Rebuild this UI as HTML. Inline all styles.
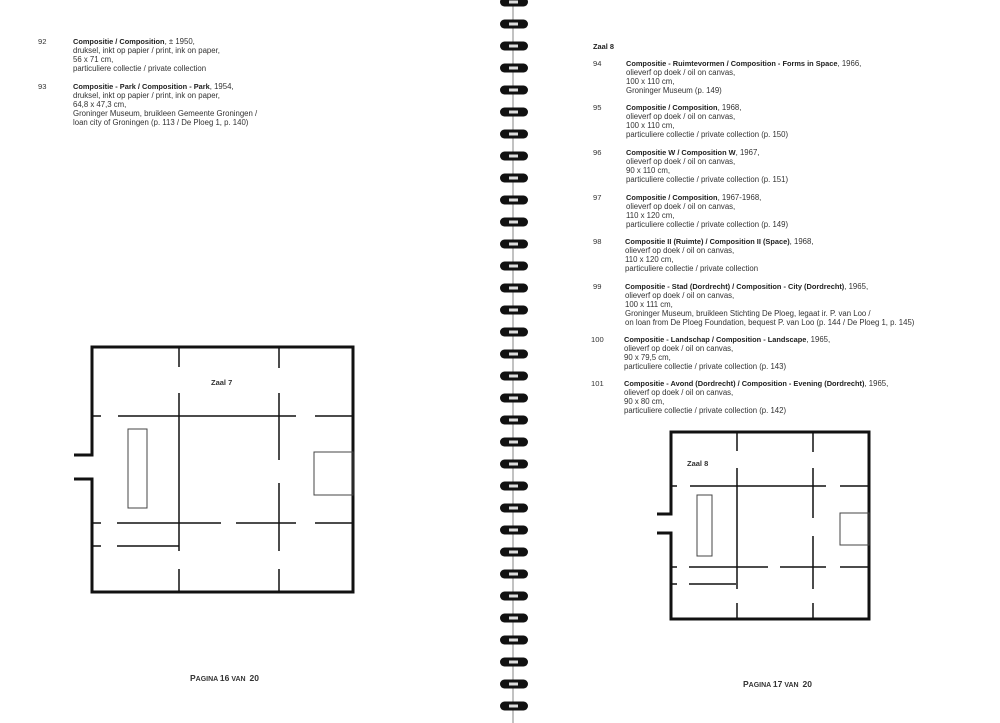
<!DOCTYPE html>
<html><head><meta charset="utf-8"><style>
body{margin:0;width:1000px;height:723px;background:#fff;position:relative;overflow:hidden;font-family:"Liberation Sans",Arial,sans-serif;color:#333}
.t{position:absolute;font-size:7.8px;line-height:9px;white-space:nowrap}
.t b{font-size:7.4px}
.n{position:absolute;font-size:7.6px;line-height:9px}
b{color:#222}
svg{position:absolute;left:0;top:0}
</style></head><body>
<svg width="1000" height="723">
<g stroke="#111" fill="none">
<path d="M74,455H92V347H353V592H92V479H74" stroke-width="3"/>
<g stroke-width="1.5">
<path d="M179,347V367M179,393V551M179,569V592"/>
<path d="M279,347V368M279,393V460M279,483V551M279,569V592"/>
<path d="M92,416H101M118,416H296M315,416H353"/>
<path d="M92,523H101M117,523H221M236,523H296M315,523H353"/>
<path d="M92,546H101M117,546H179"/>
</g>
<rect x="128" y="429" width="19" height="79" stroke-width="1" stroke="#444"/>
<rect x="314" y="452" width="39" height="43" stroke-width="1" stroke="#444"/>
<path d="M657,514H671V432H869V619H671V533H657" stroke-width="3"/>
<g stroke-width="1.5">
<path d="M737,432V451M737,468V589M737,603V619"/>
<path d="M813,432V452M813,468V518M813,536V589M813,603V619"/>
<path d="M671,486H677M690,486H826M840,486H869"/>
<path d="M671,567H677M689,567H768M780,567H826M840,567H869"/>
<path d="M671,584H677M689,584H736"/>
</g>
<rect x="697" y="495" width="15" height="61" stroke-width="1" stroke="#444"/>
<rect x="840" y="513" width="29" height="32" stroke-width="1" stroke="#444"/>
</g>
<text x="211" y="385" font-family="Liberation Sans" font-size="7.5" font-weight="bold" fill="#333">Zaal 7</text>
<text x="687" y="466" font-family="Liberation Sans" font-size="7.5" font-weight="bold" fill="#333">Zaal 8</text>
<line x1="513" y1="0" x2="513" y2="723" stroke="#999" stroke-width="1.2"/>
<g id="rings"></g>
</svg>
<script>
var g=document.getElementById('rings'),s='';
for(var k=0;k<33;k++){var y=2+22*k;
s+='<rect x="500" y="'+(y-4.5)+'" width="28" height="9" rx="4.5" fill="#111"/>';
s+='<rect x="509" y="'+(y-1.5)+'" width="9" height="3" fill="#ddd"/>';}
g.innerHTML=s;
</script>

<div class="n" style="left:38px;top:37px">92</div>
<div class="t" style="left:73px;top:37px"><b>Compositie / Composition</b>, ± 1950,<br>druksel, inkt op papier / print, ink on paper,<br>56 x 71 cm,<br>particuliere collectie / private collection</div>
<div class="n" style="left:38px;top:82px">93</div>
<div class="t" style="left:73px;top:82px"><b>Compositie - Park / Composition - Park</b>, 1954,<br>druksel, inkt op papier / print, ink on paper,<br>64,8 x 47,3 cm,<br>Groninger Museum, bruikleen Gemeente Groningen /<br>loan city of Groningen (p. 113 / De Ploeg 1, p. 140)</div>

<div class="t" style="left:593px;top:42px"><b>Zaal 8</b></div>
<div class="n" style="left:593px;top:59px">94</div>
<div class="t" style="left:626px;top:59px"><b>Compositie - Ruimtevormen / Composition - Forms in Space</b>, 1966,<br>olieverf op doek / oil on canvas,<br>100 x 110 cm,<br>Groninger Museum (p. 149)</div>
<div class="n" style="left:593px;top:103px">95</div>
<div class="t" style="left:626px;top:103px"><b>Compositie / Composition</b>, 1968,<br>olieverf op doek / oil on canvas,<br>100 x 110 cm,<br>particuliere collectie / private collection (p. 150)</div>
<div class="n" style="left:593px;top:148px">96</div>
<div class="t" style="left:626px;top:148px"><b>Compositie W / Composition W</b>, 1967,<br>olieverf op doek / oil on canvas,<br>90 x 110 cm,<br>particuliere collectie / private collection (p. 151)</div>
<div class="n" style="left:593px;top:193px">97</div>
<div class="t" style="left:626px;top:193px"><b>Compositie / Composition</b>, 1967-1968,<br>olieverf op doek / oil on canvas,<br>110 x 120 cm,<br>particuliere collectie / private collection (p. 149)</div>
<div class="n" style="left:593px;top:237px">98</div>
<div class="t" style="left:625px;top:237px"><b>Compositie II (Ruimte) / Composition II (Space)</b>, 1968,<br>olieverf op doek / oil on canvas,<br>110 x 120 cm,<br>particuliere collectie / private collection</div>
<div class="n" style="left:593px;top:282px">99</div>
<div class="t" style="left:625px;top:282px"><b>Compositie - Stad (Dordrecht) / Composition - City (Dordrecht)</b>, 1965,<br>olieverf op doek / oil on canvas,<br>100 x 111 cm,<br>Groninger Museum, bruikleen Stichting De Ploeg, legaat ir. P. van Loo /<br>on loan from De Ploeg Foundation, bequest P. van Loo (p. 144 / De Ploeg 1, p. 145)</div>
<div class="n" style="left:591px;top:335px">100</div>
<div class="t" style="left:624px;top:335px"><b>Compositie - Landschap / Composition - Landscape</b>, 1965,<br>olieverf op doek / oil on canvas,<br>90 x 79,5 cm,<br>particuliere collectie / private collection (p. 143)</div>
<div class="n" style="left:591px;top:379px">101</div>
<div class="t" style="left:624px;top:379px"><b>Compositie - Avond (Dordrecht) / Composition - Evening (Dordrecht)</b>, 1965,<br>olieverf op doek / oil on canvas,<br>90 x 80 cm,<br>particuliere collectie / private collection (p. 142)</div>

<div class="t" style="left:190px;top:674px;font-weight:bold;font-size:7px"><span style="font-size:8.5px">P</span>AGINA <span style="font-size:8.5px">16</span> VAN &nbsp;<span style="font-size:8.5px">20</span></div>
<div class="t" style="left:743px;top:680px;font-weight:bold;font-size:7px"><span style="font-size:8.5px">P</span>AGINA <span style="font-size:8.5px">17</span> VAN &nbsp;<span style="font-size:8.5px">20</span></div>
</body></html>
